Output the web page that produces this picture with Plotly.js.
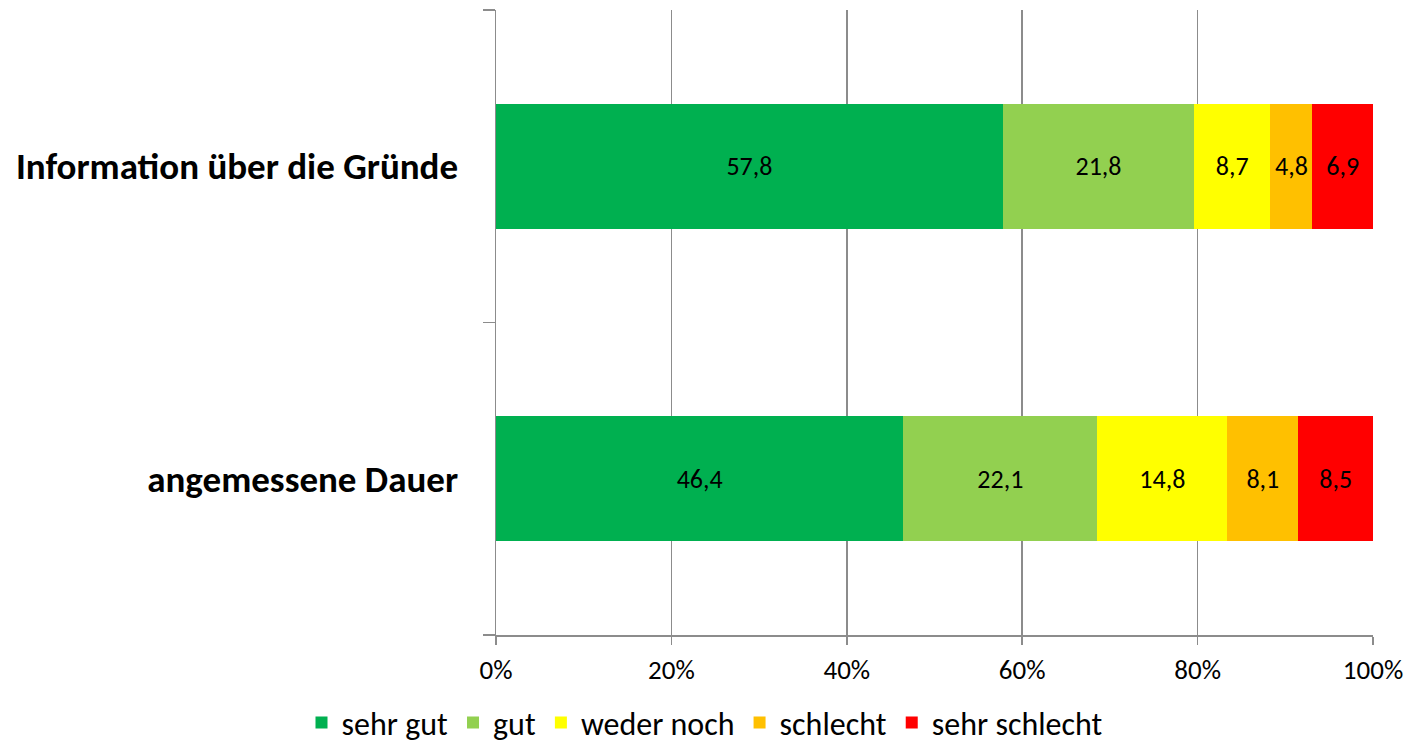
<!DOCTYPE html>
<html>
<head>
<meta charset="utf-8">
<script src="https://cdn.plot.ly/plotly-3.0.1.min.js"></script>
<style>html,body{margin:0;padding:0;background:#fff}#chart{width:1410px;height:746px}</style>
</head>
<body>
<div id="chart"></div>
<script>
const categories = ["angemessene Dauer", "Information über die Gründe"];
const seriesNames = ["sehr gut", "gut", "weder noch", "schlecht", "sehr schlecht"];
const sehrGut = [46.4, 57.8];
const gut = [22.1, 21.8];
const wederNoch = [14.8, 8.7];
const schlecht = [8.1, 4.8];
const sehrSchlecht = [8.5, 6.9];
const xTickVals = [0, 20, 40, 60, 80, 100];
const xTickText = ["0%", "20%", "40%", "60%", "80%", "100%"];

const colors = ["#00B050", "#92D050", "#FFFF00", "#FFC000", "#FF0000"];
const allSeries = [sehrGut, gut, wederNoch, schlecht, sehrSchlecht];
const fontFam = "Carlito, Calibri, 'Open Sans', sans-serif";

const traces = allSeries.map((vals, i) => ({
  type: "bar",
  orientation: "h",
  name: seriesNames[i],
  x: vals,
  y: categories,
  marker: {color: colors[i], line: {width: 0}},
  text: vals.map(v => v.toFixed(1).replace(".", ",")),
  textposition: "inside",
  insidetextanchor: "middle",
  textangle: 0,
  constraintext: "none",
  textfont: {family: fontFam, size: 26, color: "#000"},
  hoverinfo: "skip"
}));

const layout = {
  width: 1410, height: 746,
  margin: {l: 496, r: 37, t: 10, b: 111},
  paper_bgcolor: "#fff", plot_bgcolor: "#fff",
  barmode: "stack",
  barnorm: "percent",
  bargap: 0.6,
  font: {family: fontFam, color: "#000"},
  xaxis: {
    range: [0, 100],
    tickvals: xTickVals,
    ticktext: xTickText,
    showgrid: true, gridcolor: "#8c8c8c", gridwidth: 1.5,
    zeroline: false,
    showline: true, linecolor: "#8c8c8c", linewidth: 1.5,
    ticks: "outside", ticklen: 8, tickcolor: "#8c8c8c", tickwidth: 1.5,
    ticklabelstandoff: 2,
    tickfont: {family: fontFam, size: 27, color: "#000"},
    fixedrange: true
  },
  yaxis: {
    categoryorder: "array", categoryarray: categories,
    showgrid: false,
    showline: true, linecolor: "#8c8c8c", linewidth: 1.5,
    ticks: "outside", tickson: "boundaries", ticklen: 12, tickcolor: "#8c8c8c", tickwidth: 1.5,
    ticklabelstandoff: 29,
    tickfont: {family: fontFam, size: 37, color: "#000", weight: "bold"},
    fixedrange: true
  },
  legend: {
    orientation: "h", x: 0.5, xanchor: "center", xref: "container",
    y: 0.068, yanchor: "top", yref: "container",
    font: {family: fontFam, size: 32, color: "#000"},
    traceorder: "normal"
  },
  showlegend: true
};

Plotly.newPlot("chart", traces, layout, {displayModeBar: false, staticPlot: true});
</script>
</body>
</html>
